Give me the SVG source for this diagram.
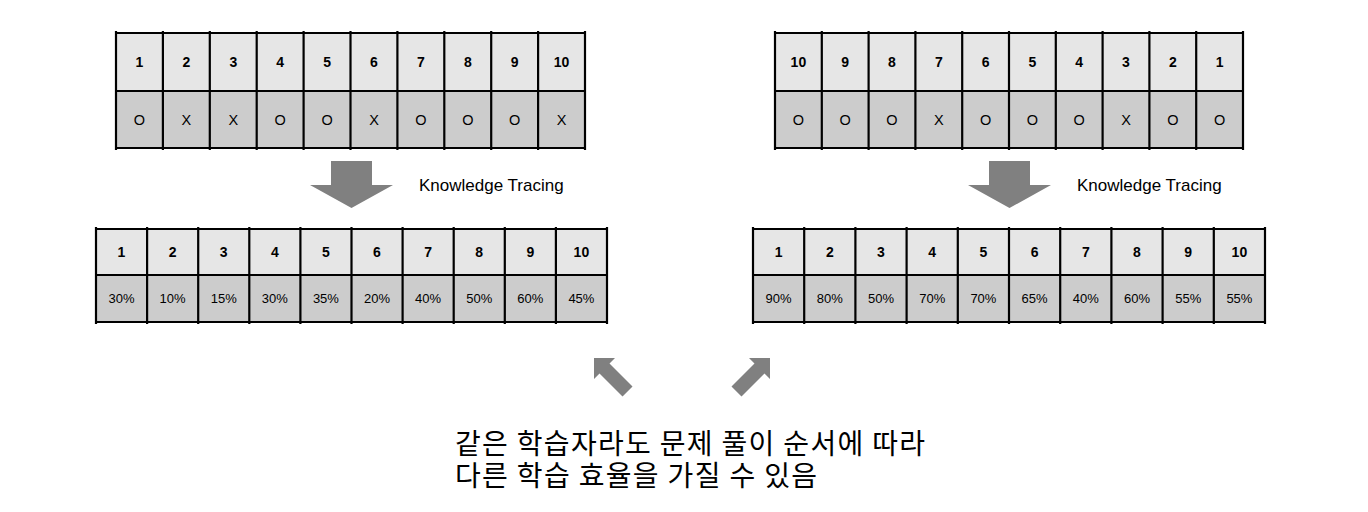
<svg xmlns="http://www.w3.org/2000/svg" width="1368" height="512" viewBox="0 0 1368 512">
<style>
.hd{fill:#e6e6e6}
.bd{fill:#cccccc}
.ln{stroke:#000;stroke-width:2.2;fill:none}
.n{font-family:"Liberation Sans",Arial,sans-serif;font-weight:bold;font-size:14px;fill:#000;text-anchor:middle}
.v{font-family:"Liberation Sans",Arial,sans-serif;font-size:14.5px;fill:#000;text-anchor:middle}
.p{font-family:"Liberation Sans",Arial,sans-serif;font-size:13px;fill:#000;text-anchor:middle}
.kt{font-family:"Liberation Sans",Arial,sans-serif;font-size:17px;fill:#000}
.ko{font-family:"Noto Sans CJK KR","Noto Sans",sans-serif;font-size:28px;fill:#000}
.ar{fill:#808080}
</style>
<rect width="1368" height="512" fill="#fff"/>

<g id="table-seq-forward">
<rect class="hd" x="116" y="33" width="469" height="58"/>
<rect class="bd" x="116" y="91" width="469" height="57"/>
<path class="ln" d="M116 33H585M116 91H585M116 148H585M116 31V150M162.9 31V150M209.8 31V150M256.7 31V150M303.6 31V150M350.5 31V150M397.4 31V150M444.3 31V150M491.2 31V150M538.1 31V150M585 31V150"/>
<g class="n">
<text x="139.5" y="67">1</text><text x="186.4" y="67">2</text><text x="233.3" y="67">3</text><text x="280.2" y="67">4</text><text x="327.1" y="67">5</text><text x="374" y="67">6</text><text x="420.9" y="67">7</text><text x="467.8" y="67">8</text><text x="514.7" y="67">9</text><text x="561.6" y="67">10</text>
</g>
<g class="v">
<text x="139.5" y="125">O</text><text x="186.4" y="125">X</text><text x="233.3" y="125">X</text><text x="280.2" y="125">O</text><text x="327.1" y="125">O</text><text x="374" y="125">X</text><text x="420.9" y="125">O</text><text x="467.8" y="125">O</text><text x="514.7" y="125">O</text><text x="561.6" y="125">X</text>
</g>
</g>

<g id="table-seq-reverse">
<rect class="hd" x="775" y="33" width="468" height="58"/>
<rect class="bd" x="775" y="91" width="468" height="57"/>
<path class="ln" d="M775 33H1243M775 91H1243M775 148H1243M775 31V150M821.8 31V150M868.6 31V150M915.4 31V150M962.2 31V150M1009 31V150M1055.8 31V150M1102.6 31V150M1149.4 31V150M1196.2 31V150M1243 31V150"/>
<g class="n">
<text x="798.4" y="67">10</text><text x="845.2" y="67">9</text><text x="892" y="67">8</text><text x="938.8" y="67">7</text><text x="985.6" y="67">6</text><text x="1032.4" y="67">5</text><text x="1079.2" y="67">4</text><text x="1126" y="67">3</text><text x="1172.8" y="67">2</text><text x="1219.6" y="67">1</text>
</g>
<g class="v">
<text x="798.4" y="125">O</text><text x="845.2" y="125">O</text><text x="892" y="125">O</text><text x="938.8" y="125">X</text><text x="985.6" y="125">O</text><text x="1032.4" y="125">O</text><text x="1079.2" y="125">O</text><text x="1126" y="125">X</text><text x="1172.8" y="125">O</text><text x="1219.6" y="125">O</text>
</g>
</g>

<g id="kt-arrow-left">
<polygon class="ar" points="331,161 372,161 372,185 393,185 351.5,208 310,185 331,185"/>
<text class="kt" x="419" y="191">Knowledge Tracing</text>
</g>
<g id="kt-arrow-right">
<polygon class="ar" points="989,161 1030,161 1030,185 1051,185 1009.5,208 968,185 989,185"/>
<text class="kt" x="1077" y="191">Knowledge Tracing</text>
</g>

<g id="table-prob-forward">
<rect class="hd" x="96" y="229" width="511" height="46"/>
<rect class="bd" x="96" y="275" width="511" height="47"/>
<path class="ln" d="M96 229H607M96 275H607M96 322H607M96 227V324M147.1 227V324M198.2 227V324M249.3 227V324M300.4 227V324M351.5 227V324M402.6 227V324M453.7 227V324M504.8 227V324M555.9 227V324M607 227V324"/>
<g class="n">
<text x="121.5" y="257">1</text><text x="172.6" y="257">2</text><text x="223.7" y="257">3</text><text x="274.8" y="257">4</text><text x="325.9" y="257">5</text><text x="377" y="257">6</text><text x="428.1" y="257">7</text><text x="479.2" y="257">8</text><text x="530.3" y="257">9</text><text x="581.4" y="257">10</text>
</g>
<g class="p">
<text x="121.5" y="303">30%</text><text x="172.6" y="303">10%</text><text x="223.7" y="303">15%</text><text x="274.8" y="303">30%</text><text x="325.9" y="303">35%</text><text x="377" y="303">20%</text><text x="428.1" y="303">40%</text><text x="479.2" y="303">50%</text><text x="530.3" y="303">60%</text><text x="581.4" y="303">45%</text>
</g>
</g>

<g id="table-prob-reverse">
<rect class="hd" x="753" y="229" width="512" height="46"/>
<rect class="bd" x="753" y="275" width="512" height="47"/>
<path class="ln" d="M753 229H1265M753 275H1265M753 322H1265M753 227V324M804.2 227V324M855.4 227V324M906.6 227V324M957.8 227V324M1009 227V324M1060.2 227V324M1111.4 227V324M1162.6 227V324M1213.8 227V324M1265 227V324"/>
<g class="n">
<text x="778.6" y="257">1</text><text x="829.8" y="257">2</text><text x="881" y="257">3</text><text x="932.2" y="257">4</text><text x="983.4" y="257">5</text><text x="1034.6" y="257">6</text><text x="1085.8" y="257">7</text><text x="1137" y="257">8</text><text x="1188.2" y="257">9</text><text x="1239.4" y="257">10</text>
</g>
<g class="p">
<text x="778.6" y="303">90%</text><text x="829.8" y="303">80%</text><text x="881" y="303">50%</text><text x="932.2" y="303">70%</text><text x="983.4" y="303">70%</text><text x="1034.6" y="303">65%</text><text x="1085.8" y="303">40%</text><text x="1137" y="303">60%</text><text x="1188.2" y="303">55%</text><text x="1239.4" y="303">55%</text>
</g>
</g>

<g id="connectors">
<polygon class="ar" points="594,358 615,358 609.5,363.5 632.5,386.5 622.5,396.5 599.5,373.5 594,379"/>
<polygon class="ar" points="770,358 749,358 754.5,363.5 731.5,386.5 741.5,396.5 764.5,373.5 770,379"/>
</g>

<g id="caption">
<text class="ko" x="455" y="454" textLength="470" lengthAdjust="spacing">같은 학습자라도 문제 풀이 순서에 따라</text>
<text class="ko" x="455" y="486" textLength="362" lengthAdjust="spacing">다른 학습 효율을 가질 수 있음</text>
</g>
</svg>
